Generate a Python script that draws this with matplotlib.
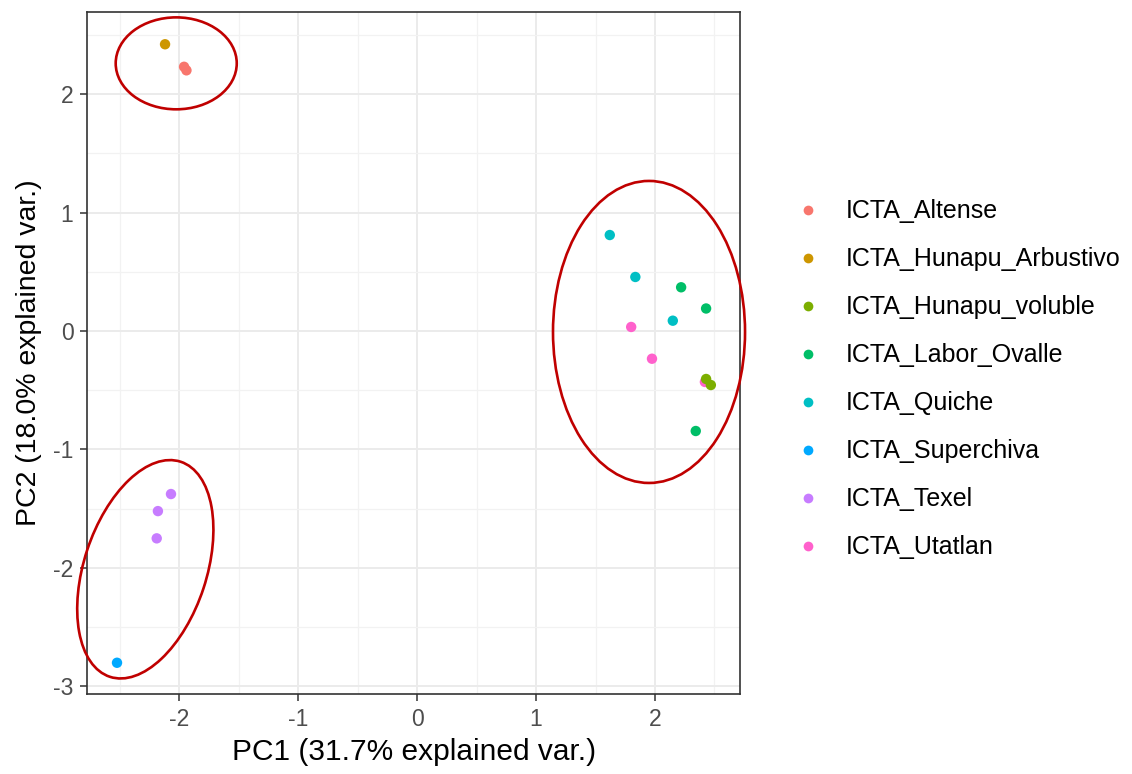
import matplotlib
matplotlib.use("Agg")
import matplotlib.pyplot as plt
from matplotlib.patches import Ellipse
from matplotlib.ticker import MultipleLocator

plt.rcParams['font.family'] = ['Liberation Sans', 'DejaVu Sans']
plt.rcParams['axes.unicode_minus'] = False

groups = ["ICTA_Altense", "ICTA_Hunapu_Arbustivo", "ICTA_Hunapu_voluble",
          "ICTA_Labor_Ovalle", "ICTA_Quiche", "ICTA_Superchiva",
          "ICTA_Texel", "ICTA_Utatlan"]
colors = ["#F8766D", "#CD9600", "#7CAE00", "#00BE67",
          "#00BFC4", "#00A9FF", "#C77CFF", "#FF61CC"]

pc1 = {
    "ICTA_Altense": [-1.96, -1.94],
    "ICTA_Hunapu_Arbustivo": [-2.12],
    "ICTA_Utatlan": [1.80, 1.975, 2.42],
    "ICTA_Hunapu_voluble": [2.43, 2.47],
    "ICTA_Labor_Ovalle": [2.22, 2.43, 2.343],
    "ICTA_Quiche": [1.62, 1.835, 2.15],
    "ICTA_Superchiva": [-2.524],
    "ICTA_Texel": [-2.07, -2.18, -2.19],
}
pc2 = {
    "ICTA_Altense": [2.23, 2.20],
    "ICTA_Hunapu_Arbustivo": [2.42],
    "ICTA_Utatlan": [0.034, -0.234, -0.43],
    "ICTA_Hunapu_voluble": [-0.405, -0.456],
    "ICTA_Labor_Ovalle": [0.369, 0.19, -0.844],
    "ICTA_Quiche": [0.81, 0.456, 0.087],
    "ICTA_Superchiva": [-2.80],
    "ICTA_Texel": [-1.376, -1.52, -1.75],
}
draw_order = ["ICTA_Altense", "ICTA_Hunapu_Arbustivo", "ICTA_Utatlan",
              "ICTA_Hunapu_voluble", "ICTA_Labor_Ovalle", "ICTA_Quiche",
              "ICTA_Superchiva", "ICTA_Texel"]

# annotation ellipses: center x, center y, width, height, angle
ell_cx = [-2.026, 1.95, -2.286]
ell_cy = [2.259, -0.008, -2.011]
ell_w = [1.018, 1.615, 1.91]
ell_h = [0.776, 2.549, 1.03]
ell_ang = [0, 0, 71.85]

fig = plt.figure(figsize=(11.32, 7.74), dpi=100)
ax = fig.add_axes([0.0771, 0.1030, 0.5766, 0.8819])

cmap = dict(zip(groups, colors))
for g in draw_order:
    ax.scatter(pc1[g], pc2[g], s=56, color=cmap[g], edgecolors='none', zorder=3)

for cx, cy, w, h, a in zip(ell_cx, ell_cy, ell_w, ell_h, ell_ang):
    e = Ellipse((cx, cy), w, h, angle=a, fill=False, edgecolor="#C00000",
                linewidth=1.9, zorder=4, clip_on=False)
    ax.add_patch(e)

ax.set_xlim(-2.774, 2.715)
ax.set_ylim(-3.066, 2.695)
ax.xaxis.set_major_locator(MultipleLocator(1))
ax.yaxis.set_major_locator(MultipleLocator(1))
ax.xaxis.set_minor_locator(MultipleLocator(0.5))
ax.yaxis.set_minor_locator(MultipleLocator(0.5))
ax.grid(which='major', color='#EBEBEB', linewidth=1.4, zorder=0)
ax.grid(which='minor', color='#F2F2F2', linewidth=0.9, zorder=0)
ax.set_axisbelow(True)
for sp in ax.spines.values():
    sp.set_color('#333333')
    sp.set_linewidth(1.2)
ax.tick_params(which='major', length=5, width=1.1, color='#333333',
               labelcolor='#4D4D4D', labelsize=16.5, pad=5)
ax.tick_params(which='minor', length=0)
ax.set_xlabel("PC1 (31.7% explained var.)", fontsize=21.5, color='black', labelpad=5)
ax.set_ylabel("PC2 (18.0% explained var.)", fontsize=20.5, color='black', labelpad=8)

handles = [plt.Line2D([], [], marker='o', linestyle='none', markersize=7,
                      markerfacecolor=c, markeredgecolor='none') for c in colors]
leg = fig.legend(handles, groups, loc='center left', bbox_to_anchor=(0.683, 0.510),
                 frameon=False, fontsize=18, labelspacing=0.96, handletextpad=1.0,
                 handlelength=1.0)

fig.savefig("out.png", dpi=100)
